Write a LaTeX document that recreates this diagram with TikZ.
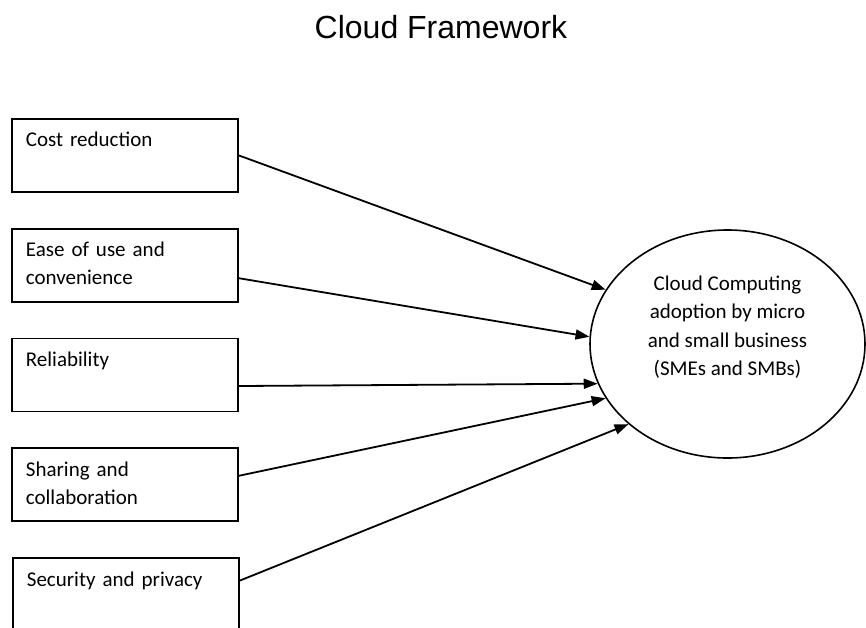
\documentclass[tikz,border=0pt]{standalone}
\usepackage{fontspec}
\setmainfont{Carlito}
\newfontfamily\titlefont{Liberation Sans}
\usetikzlibrary{positioning,shapes.geometric,arrows.meta}

\begin{document}
\begin{tikzpicture}[x=1pt,y=-1pt,
  factor/.style={draw, line width=1.8pt, minimum width=226pt, text width=198pt,
    inner xsep=14pt, inner ysep=0pt, text height=28pt, text depth=45pt, align=left,
    font=\fontsize{21}{28}\selectfont},
  influence/.style={line width=1.8pt, -{Triangle[length=14pt,width=10pt]}}]
  \useasboundingbox (0,0) rectangle (866,627);
  \node (title) at (441,27) {\titlefont\fontsize{32}{38}\selectfont Cloud Framework};
  % factors on the left
  \node[factor, anchor=north west] (cost) at (11,118) {Cost reduction};
  \node[factor, below=35pt of cost] (ease) {Ease of use and\\convenience};
  \node[factor, below=35pt of ease] (reliab) {Reliability};
  \node[factor, below=35pt of reliab] (sharing) {Sharing and\\collaboration};
  \node[factor, below=35pt of sharing, xshift=1pt] (security) {Security and privacy};
  % adoption
  \node[draw, ellipse, line width=1.6pt, minimum width=275pt, minimum height=228pt,
    align=center, text depth=37pt, font=\fontsize{21}{28.5}\selectfont] (cloud) at (727.5,344)
    {Cloud Computing\\adoption by micro\\and small business\\(SMEs and SMBs)};
  \path[influence]
  (cost.east) edge (cloud.156)
  ([yshift=-13pt]ease.east) edge (cloud.177)
  ([yshift=-11pt]reliab.east) edge (cloud.197)
  ([yshift=9pt]sharing.east) edge (cloud.204)
  ([yshift=14pt]security.east) edge (cloud.219);
\end{tikzpicture}
\end{document}
